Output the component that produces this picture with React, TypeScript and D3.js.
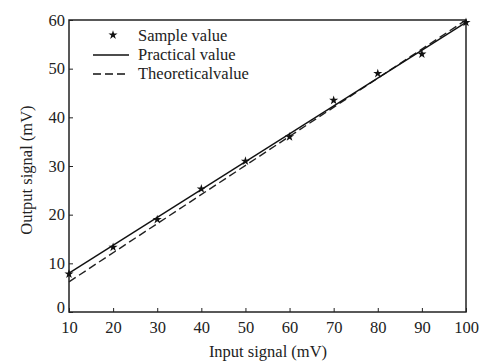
import React, { useEffect, useRef } from "react";
import * as d3 from "d3";

const inputSignal = [10, 20, 30, 40, 50, 60, 70, 80, 90, 100];
const sampleValue = [7.8, 13.3, 19, 25.3, 31, 36, 43.5, 49, 53, 59.5];

// Fitted (practical) and theoretical lines, end points
const practicalX = [10, 100];
const practicalY = [8, 59.5];
const theoreticalX = [10, 100];
const theoreticalY = [6.2, 60];

const xTicks = [10, 20, 30, 40, 50, 60, 70, 80, 90, 100];
const yTicks = [0, 10, 20, 30, 40, 50, 60];

const legendLabels = ["Sample value", "Practical value", "Theoreticalvalue"];

const W = 503;
const H = 363;
const FONT = "'Liberation Serif', 'Times New Roman', serif";
const FS = "16.5px";

const App: React.FC = () => {
    const svgRef = useRef<SVGSVGElement | null>(null);

    useEffect(() => {
        if (!svgRef.current) return;
        const margin = { top: 20, right: 37, bottom: 51, left: 69 };
        const innerWidth = W - margin.left - margin.right;
        const innerHeight = H - margin.top - margin.bottom;

        const svg = d3.select(svgRef.current);
        svg.selectAll("*").remove();

        const g = svg.append("g").attr("transform", `translate(${margin.left},${margin.top})`);

        const x = d3.scaleLinear().domain([10, 100]).range([0, innerWidth]);
        const y = d3.scaleLinear().domain([0, 60]).range([innerHeight, 0]);

        // frame
        g.append("rect")
            .attr("x", 0)
            .attr("y", 0)
            .attr("width", innerWidth)
            .attr("height", innerHeight)
            .attr("fill", "none")
            .attr("stroke", "#222")
            .attr("stroke-width", 1.5);

        // X axis (ticks pointing in)
        const xAxis = g.append("g")
            .attr("transform", `translate(0,${innerHeight})`)
            .call(d3.axisBottom(x).tickValues(xTicks).tickSizeInner(-4).tickSizeOuter(0).tickPadding(9));
        xAxis.select(".domain").remove();
        xAxis.selectAll("line").attr("stroke", "#222");
        xAxis.selectAll("text")
            .attr("fill", "#222")
            .style("font-family", FONT)
            .style("font-size", FS);

        // Y axis
        const yAxis = g.append("g")
            .call(d3.axisLeft(y).tickValues(yTicks).tickSizeInner(-4).tickSizeOuter(0).tickPadding(4));
        yAxis.select(".domain").remove();
        yAxis.selectAll("line").attr("stroke", "#222");
        yAxis.selectAll("text")
            .attr("fill", "#222")
            .style("font-family", FONT)
            .style("font-size", FS);
        // lift the "0" label a little so it clears the x labels
        yAxis.selectAll<SVGTextElement, number>("text")
            .filter(d => d === 0)
            .attr("dy", "0.05em");

        const line = d3.line<[number, number]>()
            .x(d => x(d[0]))
            .y(d => y(d[1]));

        const theo = theoreticalX.map((v, i) => [v, theoreticalY[i]] as [number, number]);
        const prac = practicalX.map((v, i) => [v, practicalY[i]] as [number, number]);

        g.append("path")
            .datum(theo)
            .attr("fill", "none")
            .attr("stroke", "#222")
            .attr("stroke-width", 1.4)
            .attr("stroke-dasharray", "8,4")
            .attr("d", line);

        g.append("path")
            .datum(prac)
            .attr("fill", "none")
            .attr("stroke", "#111")
            .attr("stroke-width", 1.4)
            .attr("d", line);

        const star = d3.symbol().type(d3.symbolStar).size(26);

        g.selectAll(".pt")
            .data(inputSignal)
            .enter()
            .append("path")
            .attr("class", "pt")
            .attr("transform", (d, i) => `translate(${x(d)},${y(sampleValue[i])})`)
            .attr("d", star as any)
            .attr("fill", "#111");

        // Legend
        const lg = svg.append("g").attr("transform", "translate(93,0)");
        lg.append("path")
            .attr("transform", "translate(20,35)")
            .attr("d", star as any)
            .attr("fill", "#111");
        lg.append("line")
            .attr("x1", 0).attr("x2", 36).attr("y1", 55).attr("y2", 55)
            .attr("stroke", "#111").attr("stroke-width", 1.4);
        lg.append("line")
            .attr("x1", 0).attr("x2", 36).attr("y1", 74).attr("y2", 74)
            .attr("stroke", "#111").attr("stroke-width", 1.4)
            .attr("stroke-dasharray", "8,4");
        legendLabels.forEach((label, i) => {
            lg.append("text")
                .attr("x", 45)
                .attr("y", 41 + i * 19)
                .attr("fill", "#222")
                .style("font-family", FONT)
                .style("font-size", FS)
                .text(label);
        });

        // Axis titles
        svg.append("text")
            .attr("x", 268)
            .attr("y", 357)
            .attr("text-anchor", "middle")
            .attr("fill", "#222")
            .style("font-family", FONT)
            .style("font-size", FS)
            .text("Input signal (mV)");

        svg.append("text")
            .attr("transform", "rotate(-90)")
            .attr("x", -170)
            .attr("y", 32)
            .attr("text-anchor", "middle")
            .attr("fill", "#222")
            .style("font-family", FONT)
            .style("font-size", FS)
            .text("Output signal (mV)");
    }, []);

    return (
        <div style={{ position: "absolute", left: 0, top: 0, background: "#fff" }}>
            <svg ref={svgRef} width={W} height={H} />
        </div>
    );
};

export default App;
